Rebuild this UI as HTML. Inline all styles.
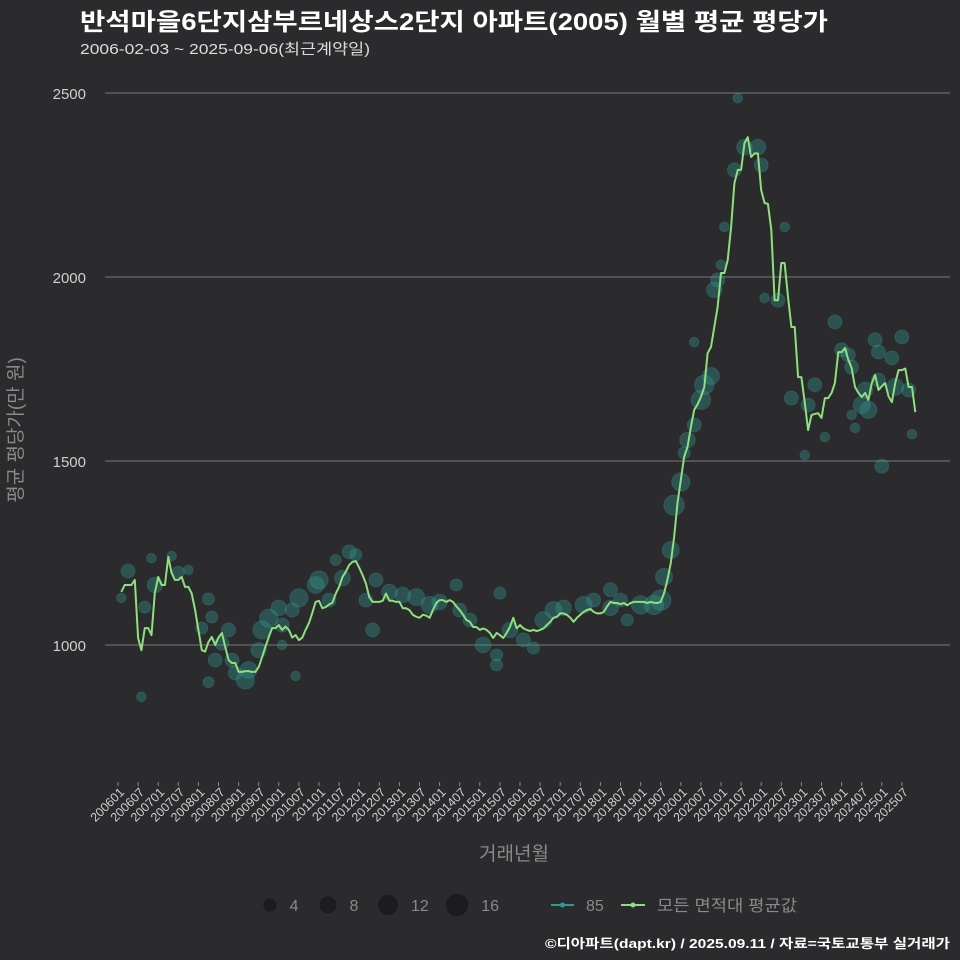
<!DOCTYPE html>
<html><head><meta charset="utf-8">
<style>
html,body{margin:0;padding:0;background:#2b2a2c;}
svg{display:block;font-family:"Liberation Sans","Noto Sans CJK KR",sans-serif;}
</style></head>
<body>
<svg id="chart" width="960" height="960" viewBox="0 0 960 960" xmlns="http://www.w3.org/2000/svg">
<rect x="0" y="0" width="960" height="960" fill="#2b2a2c"/>
<text x="80" y="30" fill="#ffffff" font-size="24" font-weight="bold" textLength="748" lengthAdjust="spacingAndGlyphs">반석마을6단지삼부르네상스2단지 아파트(2005) 월별 평균 평당가</text>
<text x="80" y="54" fill="#dddddd" font-size="15" textLength="290" lengthAdjust="spacingAndGlyphs">2006-02-03 ~ 2025-09-06(최근계약일)</text>
<g id="grid"></g>
<g id="yticks"></g>
<g id="xticks"></g>
<g id="bubbles"></g>
<g id="line"></g>
<text transform="translate(22,430) rotate(-90)" text-anchor="middle" fill="#8a8a8a" font-size="19">평균 평당가(만 원)</text>
<text x="514" y="860" text-anchor="middle" fill="#8a8a8a" font-size="19">거래년월</text>
<g id="legend"></g>
<text x="950" y="948" text-anchor="end" fill="#ffffff" font-size="13" font-weight="bold" textLength="405" lengthAdjust="spacingAndGlyphs">©디아파트(dapt.kr) / 2025.09.11 / 자료=국토교통부 실거래가</text>
</svg>
<script>
// ---- data ----
const yTicks = [1000, 1500, 2000, 2500];
const xTickLabels = ["200601","200607","200701","200707","200801","200807","200901","200907","201001","201007","201101","201107","201201","201207","201301","201307","201401","201407","201501","201507","201601","201607","201701","201707","201801","201807","201901","201907","202001","202007","202101","202107","202201","202207","202301","202307","202401","202407","202501","202507"];
const avgValues = [1144,1163,1163,1163,1177,1019,986,1046,1046,1027,1141,1185,1163,1163,1239,1196,1177,1177,1185,1158,1158,1140,1095,1041,986,982,1008,1022,1000,1020,1033,995,959,951,951,927,927,929,929,927,927,940,967,995,1022,1046,1046,1054,1041,1050,1041,1020,1027,1013,1020,1041,1060,1087,1117,1120,1100,1103,1110,1115,1140,1158,1185,1199,1217,1226,1228,1210,1190,1167,1130,1117,1117,1117,1120,1140,1120,1120,1117,1117,
1100,1100,1095,1082,1077,1074,1082,1080,1074,1095,1114,1122,1122,1117,1122,1117,1105,1095,1082,1068,1063,1049,1049,1041,1045,1041,1033,1019,1033,1027,1019,1033,1049,1074,1045,1054,1045,1041,1038,1041,1038,1041,1045,1054,1063,1074,1077,1086,1086,1082,1074,1063,1074,1082,1090,1095,1098,1090,1086,1086,1090,1105,1117,1114,1114,1111,1114,1108,1114,1117,1117,1117,1117,1114,1117,1115,1114,1117,
1141,1177,1223,1293,1386,1448,1511,1538,1592,1639,1654,1674,1701,1793,1810,1864,1918,2011,2011,2046,2136,2255,2291,2291,2364,2380,2326,2336,2336,2236,2201,2199,2128,1937,1937,2038,2038,1946,1864,1864,1728,1728,1658,1584,1625,1628,1630,1617,1671,1671,1685,1712,1796,1796,1807,1775,1753,1701,1685,1674,1685,1666,1712,1734,1693,1703,1712,1676,1660,1712,1747,1747,1751,1701,1701,1633];
const bubbleMonths = [3,1,7,8,11,10,16,18,21,27,28,25,27,29,31,33,35,34,38,39,42,43,45,48,49,53,49,52,54,59,60,63,69,71,65,67,74,77,76,81,85,89,93,96,101,102,105,109,113,114,113,117,121,124,127,130,133,139,142,147,147,150,152,156,160,162,163,165,166,168,169,170,172,174,175,177,172,178,179,180,181,184,187,191,192,185,199,193,197,201,205,208,206,211,214,216,218,219,222,224,220,226,227,228,231,232,234,236,237,219,223,227];
const bubbleValues = [1201,1128,859,1103,1163,1236,1242,1198,1204,1125,1076,1046,899,959,1005,1041,924,959,905,932,986,1041,1073,1101,1000,916,1054,1095,1128,1163,1177,1122,1253,1245,1231,1182,1122,1177,1041,1144,1136,1130,1109,1117,1163,1095,1068,1000,973,1141,946,1041,1014,992,1068,1095,1101,1109,1122,1101,1150,1122,1068,1109,1109,1122,1185,1258,1380,1443,1522,1557,1598,1666,1707,1731,1823,1965,1992,2033,2136,2291,2353,2353,2304,2486,2136,1943,1937,1671,1516,1707,1652,1565,1878,1802,1788,1755,1652,1639,1590,1829,1796,1486,1780,1701,1837,1693,1573,1625,1693,1720];
const bubbleSizes = [6,2,2,4,8,2,2,4,2,4,4,4,3,6,6,6,6,6,12,10,8,12,12,8,2,2,6,6,12,10,12,6,6,4,3,8,6,6,6,8,8,10,10,8,4,6,6,8,4,4,4,8,6,4,10,10,8,10,6,8,6,6,4,12,14,16,10,10,16,12,4,8,6,14,14,10,2,8,6,2,2,6,8,8,6,2,2,2,6,6,2,6,6,2,6,6,6,6,10,10,2,6,6,6,6,10,6,6,2,2,8,6];
const legendSizes = [4, 8, 12, 16];

// ---- scales ----
const X0 = 118, PX_PER_MONTH = 3.35;
function xScale(m){ return X0 + m * PX_PER_MONTH; }
function yScale(v){ return 645 - (v - 1000) * 0.368; }
function rScale(s){ return 2.3 * Math.sqrt(s) + 2; }
const NS = "http://www.w3.org/2000/svg";
function mk(tag, attrs, parent){ const e = document.createElementNS(NS, tag); for (const k in attrs) e.setAttribute(k, attrs[k]); parent.appendChild(e); return e; }

const grid = document.getElementById('grid'), yt = document.getElementById('yticks'), xt = document.getElementById('xticks');
yTicks.forEach(v => {
  const l = mk('line', {x1:105, x2:950, y1:yScale(v), y2:yScale(v), stroke:'#6a6a6a', 'stroke-width':1.2}, grid);
  
  
  const t = mk('text', {x:86, y:yScale(v)+6, 'text-anchor':'end', fill:'#cfcfcf', 'font-size':15}, yt);
  t.textContent = v;
  
  
});
xTickLabels.forEach((lab, i) => {
  const x = xScale(i * 6);
  const tk = mk('line', {x1:x, x2:x, y1:782, y2:786, stroke:'#888', 'stroke-width':1}, xt);
  
  
  const t = mk('text', {transform:'translate(' + (x+7) + ',793) rotate(-45)', 'text-anchor':'end', fill:'#cfcfcf', 'font-size':12.5}, xt);
  t.textContent = lab;
  
  
});

const bg = document.getElementById('bubbles');
bubbleMonths.forEach((m, i) => {
  const c = mk('circle', {cx:xScale(m), cy:yScale(bubbleValues[i]), r:rScale(bubbleSizes[i]) * 0.92, fill:'#2e9a94', 'fill-opacity':0.36, stroke:'#3fb3aa', 'stroke-opacity':0.2}, bg);
  
  
});

const lg = document.getElementById('line');
const pts = avgValues.map((v, i) => xScale(i + 1).toFixed(1) + ',' + yScale(v).toFixed(1)).join(' ');
const pl = mk('polyline', {points:pts, fill:'none', stroke:'#8ee07e', 'stroke-width':2, 'stroke-linejoin':'round'}, lg);



const leg = document.getElementById('legend');
const lx = [270, 328, 388, 457];
legendSizes.forEach((s, i) => {
  const c = mk('circle', {cx:lx[i], cy:905, r:rScale(s), fill:'#1c1b1d'}, leg);
  
  
  const t = mk('text', {x:lx[i] + rScale(s) + 13, y:911, fill:'#8a8a8a', 'font-size':16}, leg);
  t.textContent = s;
  
  
});
const l1 = mk('line', {x1:551, x2:574, y1:905, y2:905, stroke:'#2e9a94', 'stroke-width':2}, leg);


const c1 = mk('circle', {cx:562.5, cy:905, r:2.5, fill:'#2e9a94'}, leg);


const t1 = mk('text', {x:586, y:911, fill:'#8a8a8a', 'font-size':16}, leg);
t1.textContent = '85';


const l2 = mk('line', {x1:595+26, x2:645, y1:905, y2:905, stroke:'#8ee07e', 'stroke-width':2}, leg);


const c2 = mk('circle', {cx:633, cy:905, r:2.5, fill:'#8ee07e'}, leg);


const t2 = mk('text', {x:657, y:911, fill:'#8a8a8a', 'font-size':16, textLength:140, lengthAdjust:'spacingAndGlyphs'}, leg);
t2.textContent = '모든 면적대 평균값';


</script>
</body></html>
